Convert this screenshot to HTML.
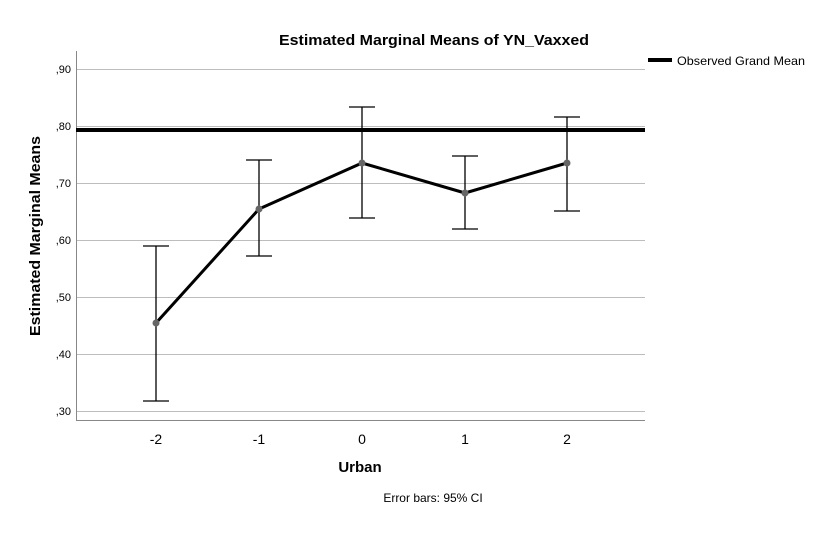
<!DOCTYPE html><html><head><style>body{margin:0;background:#fff}</style></head><body>
<svg width="827" height="528" xmlns="http://www.w3.org/2000/svg" font-family="Liberation Sans, Arial, sans-serif">
<rect width="827" height="528" fill="#fff"/>
<text x="434" y="45" font-size="15" font-weight="bold" text-anchor="middle" fill="#000" textLength="310" lengthAdjust="spacingAndGlyphs">Estimated Marginal Means of YN_Vaxxed</text>
<g stroke="#bdbdbd" stroke-width="1">
<line x1="76" x2="645" y1="69.5" y2="69.5"/><line x1="76" x2="645" y1="126.5" y2="126.5"/><line x1="76" x2="645" y1="183.5" y2="183.5"/><line x1="76" x2="645" y1="240.5" y2="240.5"/><line x1="76" x2="645" y1="297.5" y2="297.5"/><line x1="76" x2="645" y1="354.5" y2="354.5"/><line x1="76" x2="645" y1="411.5" y2="411.5"/>
</g>
<g stroke="#888" stroke-width="1"><line x1="76.5" y1="51" x2="76.5" y2="420"/><line x1="76" y1="420.5" x2="645" y2="420.5"/></g>
<g font-size="11" fill="#000" text-anchor="end">
<text x="71" y="73">,90</text><text x="71" y="130">,80</text><text x="71" y="187">,70</text><text x="71" y="244">,60</text><text x="71" y="301">,50</text><text x="71" y="358">,40</text><text x="71" y="415">,30</text>
</g>
<g font-size="14" fill="#000" text-anchor="middle">
<text x="156" y="444">-2</text><text x="259" y="444">-1</text><text x="362" y="444">0</text><text x="465" y="444">1</text><text x="567" y="444">2</text>
</g>
<text x="360" y="472" font-size="15" font-weight="bold" text-anchor="middle">Urban</text>
<text transform="translate(40,236) rotate(-90)" font-size="15" font-weight="bold" text-anchor="middle" textLength="200" lengthAdjust="spacingAndGlyphs">Estimated Marginal Means</text>
<text x="433" y="502" font-size="12" text-anchor="middle">Error bars: 95% CI</text>
<line x1="76" x2="645" y1="130" y2="130" stroke="#000" stroke-width="4"/>
<line x1="648" x2="672" y1="60" y2="60" stroke="#000" stroke-width="4"/>
<text x="677" y="65" font-size="12" textLength="128" lengthAdjust="spacingAndGlyphs">Observed Grand Mean</text>
<g stroke="#000" stroke-width="1.3" fill="none">
<path d="M156 246V401M143 246h26M143 401h26"/>
<path d="M259 160V256M246 160h26M246 256h26"/>
<path d="M362 107V218M349 107h26M349 218h26"/>
<path d="M465 156V229M452 156h26M452 229h26"/>
<path d="M567 117V211M554 117h26M554 211h26"/>
</g>
<polyline points="156,323 259,209 362,163 465,193 567,163" fill="none" stroke="#000" stroke-width="3"/>
<g fill="#666"><circle cx="156" cy="323" r="3.5"/><circle cx="259" cy="209" r="3.5"/><circle cx="362" cy="163" r="3.5"/><circle cx="465" cy="193" r="3.5"/><circle cx="567" cy="163" r="3.5"/></g>
</svg></body></html>
